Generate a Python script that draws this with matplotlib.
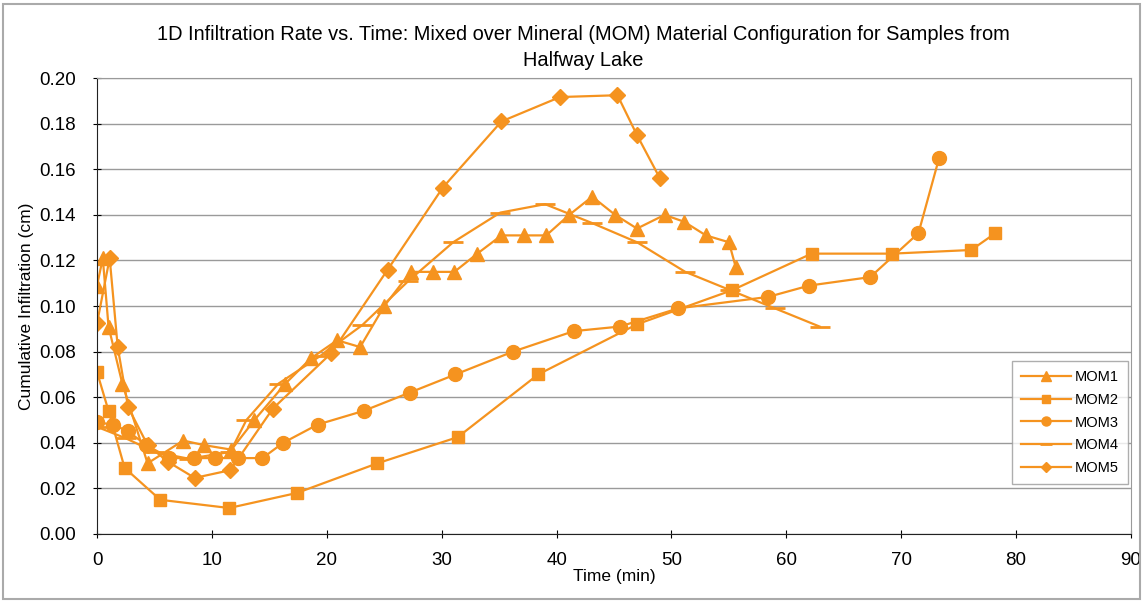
import matplotlib.pyplot as plt

plt.rcParams['font.family'] = ['Liberation Sans', 'DejaVu Sans']

orange = '#F5931F'

# MOM1 (triangles)
t1 = [0, 0.5, 1.0, 2.2, 4.4, 7.5, 9.3, 11.7, 13.7, 16.4, 18.6, 20.9, 22.9,
      25.0, 27.3, 29.2, 31.1, 33.1, 35.2, 37.2, 39.1, 41.1, 43.1, 45.1, 47.0,
      49.4, 51.1, 53.0, 55.0, 55.6]
v1 = [0.109, 0.121, 0.091, 0.066, 0.031, 0.041, 0.039, 0.037, 0.050, 0.066,
      0.077, 0.085, 0.082, 0.100, 0.115, 0.115, 0.115, 0.123, 0.131, 0.131,
      0.131, 0.140, 0.148, 0.140, 0.134, 0.140, 0.137, 0.131, 0.128, 0.117]

# MOM2 (squares)
t2 = [0, 1.0, 2.4, 5.5, 11.5, 17.4, 24.4, 31.4, 38.4, 47.0, 55.3, 62.2,
      69.2, 76.1, 78.2]
v2 = [0.071, 0.054, 0.029, 0.015, 0.0114, 0.018, 0.031, 0.0425, 0.070,
      0.092, 0.107, 0.123, 0.123, 0.1246, 0.132]

# MOM3 (circles)
t3 = [0, 1.4, 2.7, 4.3, 6.3, 8.4, 10.3, 12.3, 14.4, 16.2, 19.2, 23.2, 27.2,
      31.2, 36.2, 41.5, 45.5, 50.6, 58.4, 62.0, 67.3, 71.5, 73.3]
v3 = [0.049, 0.048, 0.045, 0.039, 0.0333, 0.0333, 0.0333, 0.0333, 0.0333,
      0.040, 0.048, 0.054, 0.062, 0.070, 0.080, 0.089, 0.091, 0.099, 0.104,
      0.109, 0.1127, 0.132, 0.165]

# MOM4 (dashes)
t4 = [0, 2.5, 5.0, 8.0, 11.6, 13.0, 15.8, 19.4, 23.1, 27.1, 31.0, 35.1,
      39.0, 43.1, 47.0, 51.2, 55.1, 59.0, 62.9]
v4 = [0.047, 0.042, 0.036, 0.033, 0.036, 0.050, 0.066, 0.078, 0.0917, 0.111,
      0.128, 0.141, 0.1447, 0.1364, 0.128, 0.115, 0.107, 0.099, 0.091]

# MOM5 (diamonds)
t5 = [0, 1.1, 1.8, 2.7, 4.4, 6.2, 8.5, 11.6, 15.3, 20.4, 25.3, 30.1, 35.2,
      40.3, 45.3, 47.0, 49.0]
v5 = [0.0925, 0.121, 0.082, 0.0557, 0.039, 0.0316, 0.0246, 0.028, 0.055,
      0.0794, 0.116, 0.152, 0.181, 0.1917, 0.1925, 0.175, 0.156]

fig = plt.figure(figsize=(11.43, 6.01), dpi=100)
ax = fig.add_axes([0.0849, 0.1115, 0.9046, 0.7585])

lw = 1.6
ax.plot(t1, v1, color=orange, lw=lw, marker='^', ms=10, label='MOM1')
ax.plot(t2, v2, color=orange, lw=lw, marker='s', ms=8, label='MOM2')
ax.plot(t3, v3, color=orange, lw=lw, marker='o', ms=10, label='MOM3')
ax.plot(t4, v4, color=orange, lw=lw, marker='_', ms=14, mew=2, label='MOM4')
ax.plot(t5, v5, color=orange, lw=lw, marker='D', ms=8, label='MOM5')

ax.set_xlim(0, 90)
ax.set_ylim(0, 0.20)
ax.set_xticks(range(0, 91, 10))
ax.set_yticks([i * 0.02 for i in range(11)])
ax.set_yticklabels(['%.2f' % (i * 0.02) for i in range(11)])
ax.tick_params(labelsize=13.5, direction='inout', length=6)
ax.tick_params(axis='y', pad=12)
ax.tick_params(axis='x', pad=10)
ax.grid(axis='y', color='#9a9a9a', lw=1)
ax.set_axisbelow(True)
for s in ['top', 'right']:
    ax.spines[s].set_color('#9a9a9a')
for s in ['left', 'bottom']:
    ax.spines[s].set_color('#222222')

ax.set_xlabel('Time (min)', fontsize=12.5, labelpad=0)
ax.set_ylabel('Cumulative Infiltration (cm)', fontsize=12.5, labelpad=4)
ax.set_title('1D Infiltration Rate vs. Time: Mixed over Mineral (MOM) Material '
             'Configuration for Samples from\nHalfway Lake', fontsize=14.4,
             linespacing=1.45, pad=9, x=0.47)

leg = ax.legend(loc='lower right', bbox_to_anchor=(0.997, 0.11), fontsize=10.5,
                frameon=True, fancybox=False, handlelength=3.4, markerscale=0.65,
                borderpad=0.6, labelspacing=0.6, handletextpad=0.3,
                borderaxespad=0)
leg.get_frame().set_edgecolor('#9a9a9a')
leg.get_frame().set_linewidth(1)

fig.patches.append(plt.Rectangle((0.003, 0.003), 0.994, 0.99, transform=fig.transFigure,
                                 fill=False, edgecolor='#aaaaaa', lw=1.5))

fig.savefig('out.png', dpi=100)
